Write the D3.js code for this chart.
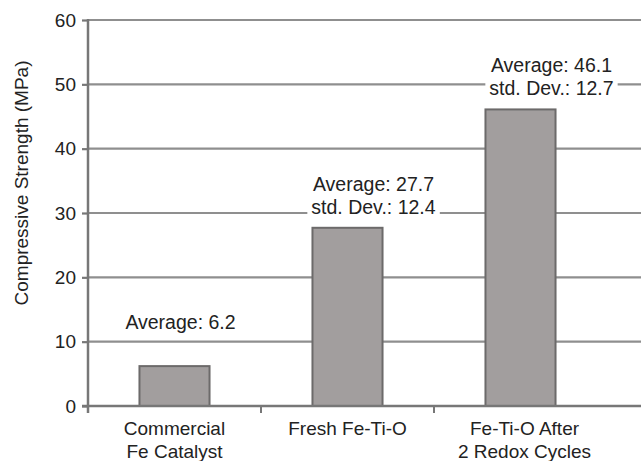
<!DOCTYPE html>
<html>
<head>
<meta charset="utf-8">
<script src="https://cdn.jsdelivr.net/npm/d3@7"></script>
<style>
  html, body { margin: 0; padding: 0; background: #fff; }
  svg { display: block; }
  text { font-family: "Liberation Sans", Arial, Helvetica, sans-serif; fill: #222; }
</style>
</head>
<body>
<svg id="chart" width="641" height="461"></svg>
<script>
// Sample groups (each label may wrap onto two lines)
const categories = [
  ["Commercial", "Fe Catalyst"],
  ["Fresh Fe-Ti-O"],
  ["Fe-Ti-O After", "2 Redox Cycles"]
];
// Average compressive strength (MPa)
const averages = [6.2, 27.7, 46.1];
// Standard deviation (MPa); null where none is reported
const stdDevs = [null, 12.4, 12.7];
// Y axis ticks
const yTicks = [0, 10, 20, 30, 40, 50, 60];
const yTitle = "Compressive Strength (MPa)";

const W = 641, H = 461;
const plotLeft = 88, plotBottom = 406, plotTop = 20, bandStep = 173;
const svg = d3.select("#chart");

const keys = categories.map(c => c.join(" "));
const x = d3.scaleBand()
  .domain(keys)
  .range([plotLeft, plotLeft + bandStep * keys.length])
  .paddingInner(0.595)
  .paddingOuter(0.2975);
const y = d3.scaleLinear().domain([0, 60]).range([plotBottom, plotTop]);

// Horizontal gridlines run to the right edge
svg.append("g")
  .selectAll("line")
  .data(yTicks.filter(d => d > 0))
  .join("line")
  .attr("x1", plotLeft).attr("x2", W)
  .attr("y1", d => y(d)).attr("y2", d => y(d))
  .attr("stroke", "#8f8f8f")
  .attr("stroke-width", 2.2);

// Y axis
const yAxis = svg.append("g")
  .attr("transform", `translate(${plotLeft},0)`)
  .call(d3.axisLeft(y).tickValues(yTicks).tickSize(6).tickPadding(6));
yAxis.select(".domain").remove();
yAxis.selectAll(".tick line").attr("stroke", "#777").attr("stroke-width", 2.2);
yAxis.selectAll(".tick text")
  .style("font-family", "'Liberation Sans', Arial, sans-serif")
  .attr("font-size", 19).attr("fill", "#222");
svg.append("line")
  .attr("x1", plotLeft).attr("x2", plotLeft)
  .attr("y1", plotTop - 1).attr("y2", plotBottom + 7)
  .attr("stroke", "#777").attr("stroke-width", 2.5);

// Bars
svg.append("g")
  .selectAll("rect")
  .data(averages)
  .join("rect")
  .attr("x", (d, i) => x(keys[i]))
  .attr("width", x.bandwidth())
  .attr("y", d => y(d))
  .attr("height", d => y(0) - y(d))
  .attr("fill", "#a29e9e")
  .attr("stroke", "#6c6a6a")
  .attr("stroke-width", 2);

// X axis line and boundary ticks
svg.append("line")
  .attr("x1", plotLeft - 6).attr("x2", W)
  .attr("y1", plotBottom).attr("y2", plotBottom)
  .attr("stroke", "#777").attr("stroke-width", 2.5);
svg.append("g")
  .selectAll("line")
  .data(d3.range(1, keys.length))
  .join("line")
  .attr("x1", i => plotLeft + x.step() * i).attr("x2", i => plotLeft + x.step() * i)
  .attr("y1", plotBottom).attr("y2", plotBottom + 7)
  .attr("stroke", "#777").attr("stroke-width", 2);

// Category labels
const catG = svg.append("g");
categories.forEach((lines, i) => {
  const cx = x(keys[i]) + x.bandwidth() / 2 + (i === 2 ? 4 : 0);
  const t = catG.append("text")
    .attr("text-anchor", "middle")
    .attr("font-size", 19);
  lines.forEach((ln, j) => {
    t.append("tspan").attr("x", cx).attr("y", plotBottom + 29 + j * 23).text(ln);
  });
});

// Value annotations above each bar, with a white backing over the gridlines
const shift = [6, 26, 31];
averages.forEach((v, i) => {
  const cx = x(keys[i]) + x.bandwidth() / 2 + shift[i];
  const yTop = y(v);
  const lines = ["Average: " + v.toFixed(1)];
  if (stdDevs[i] != null) lines.push("std. Dev.: " + stdDevs[i].toFixed(1));
  const g = svg.append("g");
  const bg = g.append("rect").attr("fill", "#fff");
  const t = g.append("text").attr("text-anchor", "middle").attr("font-size", 19.5);
  lines.forEach((ln, j) => {
    t.append("tspan").attr("x", cx).attr("y", yTop - 37 + j * 23).text(ln);
  });
  const bb = t.node().getBBox();
  bg.attr("x", bb.x - 4).attr("y", bb.y).attr("width", bb.width + 8).attr("height", bb.height);
});

// Y axis title
svg.append("text")
  .attr("transform", `translate(28,${(plotTop + plotBottom) / 2 - 30}) rotate(-90)`)
  .attr("text-anchor", "middle")
  .attr("font-size", 19)
  .text(yTitle);
</script>
</body>
</html>
